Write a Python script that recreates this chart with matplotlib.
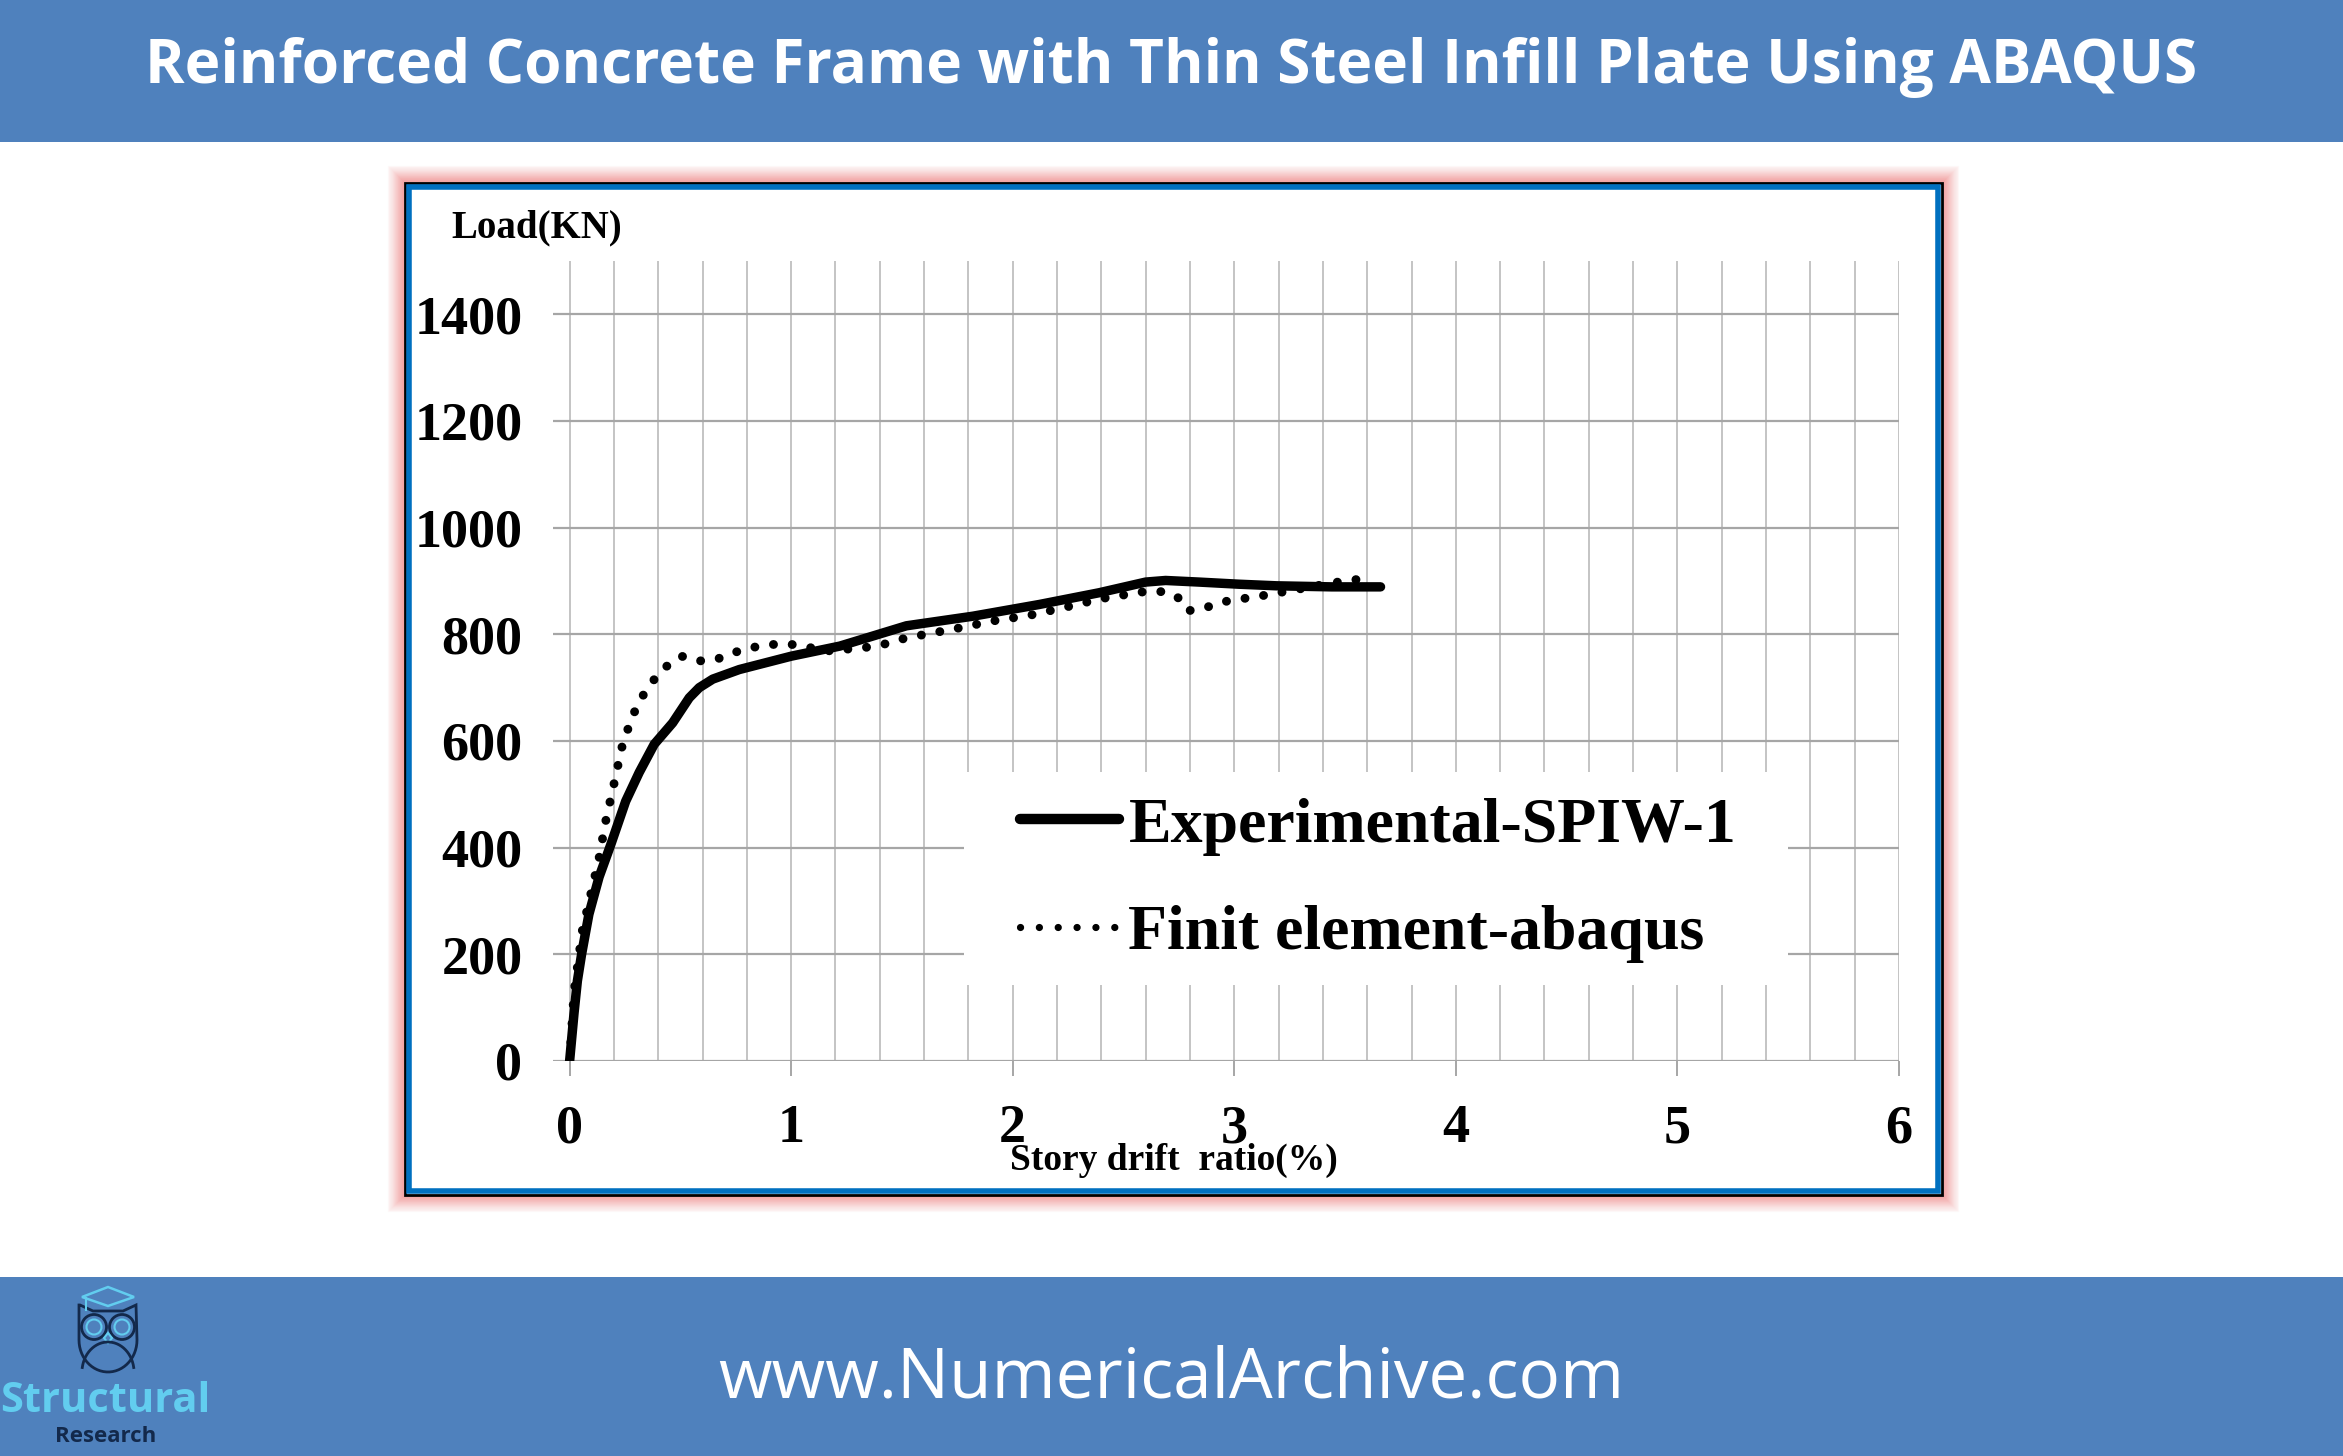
import numpy as np
import matplotlib
matplotlib.use("Agg")
import matplotlib.pyplot as plt
from matplotlib.patches import Rectangle, Circle, Polygon
from matplotlib.ticker import MultipleLocator
from matplotlib.lines import Line2D

# Datos
exp_x = [0, 0.01, 0.02, 0.035, 0.054, 0.087, 0.133, 0.186, 0.253, 0.314, 0.382, 0.465,
         0.54, 0.585, 0.646, 0.766, 1.0, 1.22, 1.37, 1.52, 1.82, 2.12, 2.39, 2.6,
         2.69, 2.84, 3.02, 3.19, 3.44, 3.66]
exp_y = [0, 45, 90, 150, 200, 275, 345, 406, 487, 541, 594, 634,
         681, 700, 716, 734, 759, 778, 797, 816, 834, 856, 878, 898,
         901, 898, 894, 891, 889, 889]

fe_x = [0, 0.02, 0.057, 0.095, 0.133, 0.163, 0.2, 0.235, 0.261, 0.291, 0.329, 0.379,
        0.434, 0.505, 0.585, 0.668, 0.751, 0.834, 0.917, 1.003, 1.086, 1.166, 1.246,
        1.33, 1.415, 1.498, 1.58, 1.747, 1.91, 2.08, 2.24, 2.40, 2.49, 2.57, 2.66,
        2.74, 2.79, 2.87, 2.95, 3.04, 3.12, 3.20, 3.28, 3.45, 3.54, 3.62]
fe_y = [0, 130, 244, 312, 381, 450, 519, 587, 620, 653, 684, 714,
        739, 759, 750, 754, 767, 776, 781, 781, 775, 769, 772,
        775, 781, 791, 798, 811, 825, 836, 851, 867, 873, 879, 881,
        872, 844, 850, 861, 867, 872, 878, 884, 897, 902, 907]

labels = ['Experimental-SPIW-1', 'Finit element-abaqus']
x_ticks = [0, 1, 2, 3, 4, 5, 6]
y_ticks = [0, 200, 400, 600, 800, 1000, 1200, 1400]

W, H = 2343, 1456
BLUE = '#4f81bd'
serif = 'Liberation Serif'
DOTS = (0, (0.01, 2.1))

fig = plt.figure(figsize=(W / 100, H / 100), dpi=100)
fig.patch.set_facecolor('white')

# Fondo en pixeles: bandas, marco, logo
bg = fig.add_axes([0, 0, 1, 1], zorder=0)
bg.set_xlim(0, W)
bg.set_ylim(H, 0)
bg.axis('off')

bg.add_patch(Rectangle((0, 0), W, 142, facecolor=BLUE, edgecolor='none'))
bg.add_patch(Rectangle((0, 1277), W, H - 1277, facecolor=BLUE, edgecolor='none'))

bg.text(W / 2, 67, 'Reinforced Concrete Frame with Thin Steel Infill Plate Using ABAQUS',
        color='white', fontsize=43.4, fontweight='bold', family='Open Sans',
        ha='center', va='center')
bg.text(W / 2, 1379, 'www.NumericalArchive.com', color='white', fontsize=49.8,
        family='Open Sans', ha='center', va='center')

# marco con halo rosado
fx0, fy0, fx1, fy1 = 405, 183, 1942, 1195
for i in range(16, 0, -1):
    bg.add_patch(Rectangle((fx0 - i, fy0 - i), fx1 - fx0 + 2 * i, fy1 - fy0 + 2 * i,
                           fill=False, edgecolor='#f08a8a', lw=1.6,
                           alpha=0.06 + 0.5 * (1 - i / 16) ** 1.5))
bg.add_patch(Rectangle((fx0, fy0), fx1 - fx0, fy1 - fy0, facecolor='white',
                       edgecolor='black', lw=2))
bg.add_patch(Rectangle((fx0 + 4, fy0 + 4), fx1 - fx0 - 8, fy1 - fy0 - 8, fill=False,
                       edgecolor='#0070c0', lw=4))

# logo (buho)
navy = '#13294b'
light = '#62cdef'
bg.add_patch(Polygon([(82, 1297), (108, 1287), (134, 1297), (108, 1306)], closed=True,
                     fill=False, edgecolor=light, lw=1.8))
bg.plot([86, 86], [1298, 1310], color=light, lw=1.5)
body = [(80, 1305), (93, 1311), (123, 1311), (136, 1305), (137, 1340)]
body += [(108 + 29 * np.cos(a), 1340 + 32 * np.sin(a)) for a in np.linspace(0, np.pi, 30)]
body += [(79, 1305)]
bg.add_patch(Polygon(body, closed=True, fill=False, edgecolor=navy, lw=2))
for cx in (94, 122):
    bg.add_patch(Circle((cx, 1327), 12.5, fill=False, edgecolor=navy, lw=2))
    bg.add_patch(Circle((cx, 1327), 7.5, fill=False, edgecolor=light, lw=1.5))
bg.add_patch(Polygon([(108, 1333), (112, 1338), (108, 1343), (104, 1338)], closed=True,
                     fill=False, edgecolor=light, lw=1.5))
arc = [(108 + 26 * np.cos(a), 1372 - 30 * np.sin(a)) for a in np.linspace(0.15, np.pi - 0.15, 30)]
bg.plot([p[0] for p in arc], [p[1] for p in arc], color=navy, lw=2)
bg.text(0, 1401, 'Structural', color=light, fontsize=30, fontweight='bold',
        family='Open Sans', ha='left', va='center')
bg.text(106, 1437, 'Research', color=navy, fontsize=16, fontweight='bold',
        family='Open Sans', ha='center', va='center')

# textos de ejes
bg.text(451, 228, 'Load(KN)', fontsize=28, fontweight='bold', family=serif,
        ha='left', va='center')
bg.text(1010, 1160, 'Story drift  ratio(%)', fontsize=27, fontweight='bold', family=serif,
        ha='left', va='center')

# ejes principales
ax = fig.add_axes([553 / W, 1 - 1061 / H, (1899 - 553) / W, (1061 - 261) / H], zorder=1)
ax.set_facecolor('none')
ax.set_xlim(-0.075, 6)
ax.set_ylim(0, 1500)
for s in ax.spines.values():
    s.set_visible(False)
ax.set_xticks(x_ticks)
ax.xaxis.set_minor_locator(MultipleLocator(0.2))
ax.set_yticks(y_ticks)
ax.set_axisbelow(True)
ax.grid(axis='x', which='both', color='#c4c4c4', lw=1.4)
ax.grid(axis='y', which='major', color='#a6a6a6', lw=1.6)
ax.tick_params(axis='x', which='major', length=11, width=1.4, color='#a6a6a6',
               pad=20, labelsize=39)
ax.tick_params(axis='x', which='minor', length=0)
ax.tick_params(axis='y', length=0, pad=22, labelsize=39)
for lab in ax.get_xticklabels() + ax.get_yticklabels():
    lab.set_fontfamily(serif)
    lab.set_fontweight('bold')

ax.plot(exp_x, exp_y, color='black', lw=6.8, solid_capstyle='round',
        solid_joinstyle='round', zorder=4)
ax.plot(fe_x, fe_y, color='black', lw=6.4, linestyle=DOTS,
        dash_capstyle='round', zorder=3)

# leyenda con fondo blanco que tapa la rejilla
ax.add_patch(Rectangle((964 / W, 1 - 985 / H), 824 / W, 213 / H, transform=fig.transFigure,
                       facecolor='white', edgecolor='none', zorder=2.5))
handles = [Line2D([], [], color='black', lw=7.5, solid_capstyle='round'),
           Line2D([], [], color='black', lw=5.2, linestyle=(0, (0.01, 2.6)),
                  dash_capstyle='round')]
ax.legend(handles, labels, loc='center', bbox_to_anchor=(1378 / W, 1 - 880 / H),
          bbox_transform=fig.transFigure, frameon=False, handlelength=1.55,
          handletextpad=0.15, labelspacing=0.76,
          prop={'family': serif, 'weight': 'bold', 'size': 46})

fig.savefig('out.png', dpi=100)
